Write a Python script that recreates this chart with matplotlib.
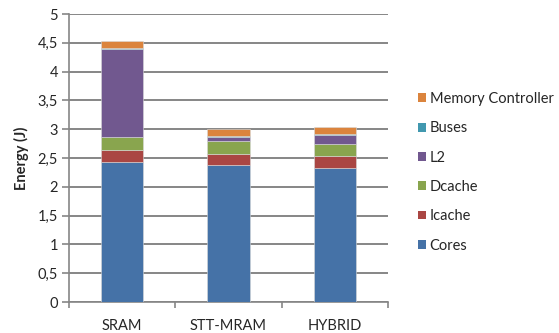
import matplotlib
matplotlib.use("Agg")
import matplotlib.pyplot as plt
from matplotlib.patches import Patch
from matplotlib.ticker import FuncFormatter, MultipleLocator

plt.rcParams['font.family'] = ['Lato', 'DejaVu Sans']

configs = ["SRAM", "STT-MRAM", "HYBRID"]
components = ["Cores", "Icache", "Dcache", "L2", "Buses", "Memory Controller"]
cores = [2.43, 2.37, 2.33]
icache = [0.21, 0.20, 0.20]
dcache = [0.23, 0.23, 0.22]
l2 = [1.52, 0.07, 0.15]
buses = [0.02, 0.02, 0.02]
mem_ctrl = [0.12, 0.11, 0.11]
colors = ["#4572A7", "#AA4643", "#89A54E", "#71588F", "#4198AF", "#DB843D"]

series = [cores, icache, dcache, l2, buses, mem_ctrl]

fig = plt.figure(figsize=(5.59, 3.33), dpi=100)
ax = fig.add_axes([69 / 559, 1 - 302 / 333, (388 - 69) / 559, (302 - 14) / 333])

x = list(range(len(configs)))
bottom = [0.0] * len(configs)
for vals, col in zip(series, colors):
    ax.bar(x, vals, width=0.4, bottom=bottom, color=col, edgecolor="#D9D9D9",
           linewidth=0.4, zorder=3)
    bottom = [b + v for b, v in zip(bottom, vals)]

ax.set_xlim(-0.5, 2.5)
ax.set_ylim(0, 5)
ax.yaxis.set_major_locator(MultipleLocator(0.5))
ax.yaxis.set_major_formatter(FuncFormatter(lambda v, p: f"{v:g}".replace(".", ",")))
ax.grid(axis="y", color="#868686", linewidth=1.4, zorder=0)
ax.set_axisbelow(True)

for side in ["top", "right"]:
    ax.spines[side].set_visible(False)
ax.spines["left"].set_color("#868686")
ax.spines["bottom"].set_color("#868686")
ax.spines["left"].set_linewidth(1.2)
ax.spines["bottom"].set_linewidth(1.2)

ax.set_xticks([-0.5, 0.5, 1.5, 2.5])
ax.set_xticklabels([])
ax.set_xticks(x, minor=True)
ax.set_xticklabels(configs, minor=True)
ax.tick_params(axis="x", which="major", length=4, color="#868686", width=1.2, direction="out")
ax.tick_params(axis="x", which="minor", length=0, pad=12, labelsize=10.5, labelcolor="#262626")
ax.tick_params(axis="y", length=5, color="#868686", width=1.2, labelsize=10.5,
               labelcolor="#262626", pad=3)

ax.set_ylabel("Energy (J)", fontsize=10.5, fontweight="bold", color="#262626", labelpad=6)

handles = [Patch(facecolor=c, edgecolor="none") for c in colors][::-1]
labels = components[::-1]
fig.legend(handles, labels, loc="upper left", bbox_to_anchor=(418 / 559, 1 - 92 / 333),
           frameon=False, fontsize=10.5, handlelength=0.55, handleheight=0.55,
           handletextpad=0.25, labelspacing=1.05, borderpad=0, borderaxespad=0,
           labelcolor="#262626")

fig.savefig("out.png", dpi=100)
